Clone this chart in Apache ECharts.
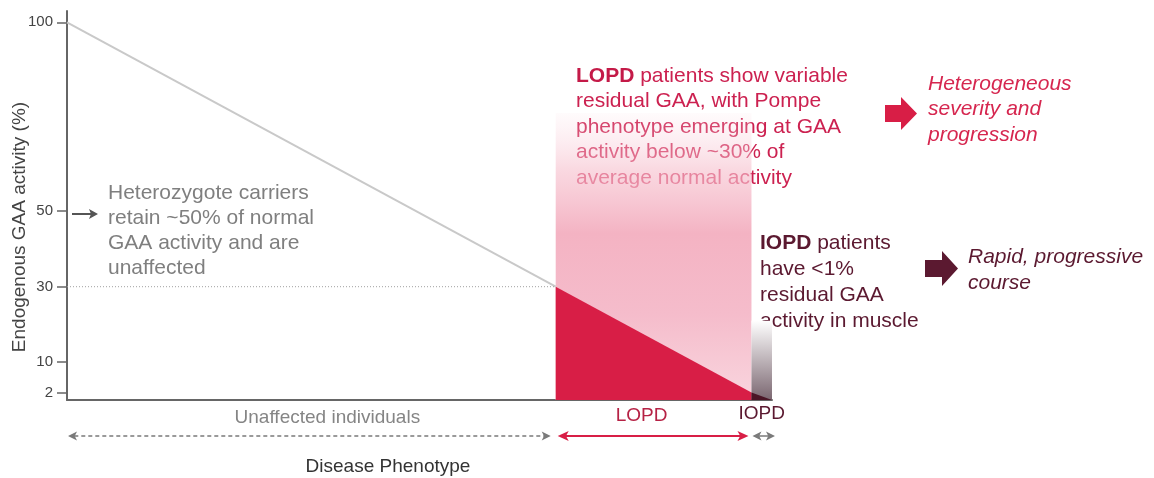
<!DOCTYPE html>
<html lang="en">
<head>
<meta charset="UTF-8">
<title>GAA activity vs disease phenotype</title>
<script src="https://cdn.jsdelivr.net/npm/echarts@6/dist/echarts.min.js"></script>
<style>
  html, body { margin: 0; padding: 0; background: #fff; }
  #main { width: 1154px; height: 478px; }
</style>
</head>
<body>
<div id="main"></div>
<script>
// ---- data ----
const activityX = [0, 100];          // disease phenotype (arbitrary units)
const activityY = [100, 2];          // endogenous GAA activity (%)
const yTickValues = [2, 10, 30, 50, 100];
const lopdThreshold = 30;
const lopdStartX = 71.4;
const iopdStartX = 100;
const axisEndX = 103;
const lopdBandTop = 76;
const iopdBandTop = 21;
const phenotypeNames = ['Unaffected individuals', 'LOPD', 'IOPD'];
const phenotypeStart = [0, lopdStartX, iopdStartX];
const phenotypeEnd = [lopdStartX, iopdStartX, axisEndX];

// ---- styles ----
const FONT = '"Liberation Sans", Arial, sans-serif';
const CRIMSON = '#d81e46';
const MAROON = '#5b1930';
const rangeArrowColor = ['#7a7a7a', CRIMSON, '#7a7a7a'];
const rangeTextColor = ['#858585', '#b62245', MAROON];
const rangeDashed = [true, false, false];
const rangeInset = [[1, -5], [2, -3], [1, 3]];
const rangeLabelDx = [16, -12, 0];
const rangeLabelDy = [18, 16, 14];

let ele = document.getElementById('main');
var myCharts = echarts.init(ele);

function arrowHead(tipX, y, dir, len, half, color) {
    return {
        type: 'polygon',
        shape: { points: [[tipX, y], [tipX - dir * len, y - half], [tipX - dir * len * 0.75, y], [tipX - dir * len, y + half]] },
        style: { fill: color }
    };
}

function renderPhenotype(params, api) {
    const i = api.value(2);
    const a = api.coord([api.value(0), 0]);
    const b = api.coord([api.value(1), 0]);
    const y = a[1] + 36;
    const x0 = a[0] + rangeInset[i][0];
    const x1 = b[0] + rangeInset[i][1];
    const color = rangeArrowColor[i];
    const len = i === 1 ? 11 : 9;
    const half = i === 1 ? 5 : 4.5;
    const children = [];
    children.push({
        type: 'line',
        shape: { x1: x0 + len * 0.7, y1: y, x2: x1 - len * 0.7, y2: y },
        style: { stroke: color, lineWidth: i === 1 ? 2 : 1.5, lineDash: rangeDashed[i] ? [4, 3] : null }
    });
    children.push(arrowHead(x0, y, -1, len, half, color));
    children.push(arrowHead(x1, y, 1, len, half, color));
    children.push({
        type: 'text',
        x: (a[0] + b[0]) / 2 + rangeLabelDx[i],
        y: a[1] + rangeLabelDy[i],
        style: {
            text: phenotypeNames[i], fill: rangeTextColor[i],
            font: '19px ' + FONT, align: 'center', verticalAlign: 'middle'
        }
    });
    return { type: 'group', children: children };
}

var option = {
    animation: false,
    backgroundColor: '#fff',
    grid: { left: 67, right: 382, top: 11, bottom: 78 },
    xAxis: {
        type: 'value', min: 0, max: axisEndX,
        axisLine: { lineStyle: { color: '#666', width: 2 } },
        axisTick: { show: false }, axisLabel: { show: false }, splitLine: { show: false }
    },
    yAxis: {
        type: 'value', min: 0, max: 103,
        axisLine: { show: true, lineStyle: { color: '#666', width: 2 } },
        axisTick: { show: true, customValues: yTickValues, length: 10, lineStyle: { color: '#666', width: 1.5 } },
        axisLabel: { customValues: yTickValues, color: '#444', fontSize: 15, fontFamily: FONT, margin: 14 },
        splitLine: { show: false }
    },
    series: [
        {
            name: 'LOPD band', type: 'line', symbol: 'none', z: 1,
            data: [[lopdStartX, lopdBandTop], [iopdStartX, lopdBandTop]],
            lineStyle: { width: 0 },
            areaStyle: {
                opacity: 1,
                color: new echarts.graphic.LinearGradient(0, 0, 0, 1, [
                    { offset: 0, color: 'rgba(250,215,224,0.1)' },
                    { offset: 0.2, color: 'rgba(246,190,204,0.6)' },
                    { offset: 0.42, color: '#f4b3c3' },
                    { offset: 0.7, color: '#f5bccb' },
                    { offset: 1, color: '#f9d5de' }
                ])
            }
        },
        {
            name: 'IOPD band', type: 'line', symbol: 'none', z: 1,
            data: [[iopdStartX, iopdBandTop], [axisEndX, iopdBandTop]],
            lineStyle: { width: 0 },
            areaStyle: {
                opacity: 1,
                color: new echarts.graphic.LinearGradient(0, 0, 0, 1, [
                    { offset: 0, color: 'rgba(255,255,255,1)' },
                    { offset: 1, color: '#7a6670' }
                ])
            }
        },
        {
            name: 'LOPD residual activity', type: 'line', symbol: 'none', z: 2,
            data: [[lopdStartX, lopdThreshold], [activityX[1], activityY[1]]],
            lineStyle: { width: 0 },
            areaStyle: { color: CRIMSON, opacity: 1 }
        },
        {
            name: 'IOPD residual activity', type: 'line', symbol: 'none', z: 2,
            data: [[activityX[1], activityY[1]], [axisEndX, 0]],
            lineStyle: { width: 0 },
            areaStyle: { color: '#4a1526', opacity: 1 }
        },
        {
            name: 'GAA activity', type: 'line', symbol: 'none', z: 3,
            data: [[activityX[0], activityY[0]], [lopdStartX, lopdThreshold]],
            lineStyle: { color: '#c9c9c9', width: 2 }
        },
        {
            name: '30% threshold', type: 'line', symbol: 'none', z: 3,
            data: [[0, lopdThreshold], [lopdStartX, lopdThreshold]],
            lineStyle: { color: '#a0a0a0', width: 1, type: [1, 2] }
        },
        {
            name: 'Phenotype', type: 'custom', clip: false, z: 4,
            renderItem: renderPhenotype,
            encode: { x: [0, 1] },
            data: phenotypeNames.map((n, i) => [phenotypeStart[i], phenotypeEnd[i], i])
        }
    ],
    graphic: [
        {
            type: 'text', x: 20, y: 227, rotation: Math.PI / 2,
            style: { text: 'Endogenous GAA activity (%)', fill: '#444', font: '19px ' + FONT, align: 'center', verticalAlign: 'middle' }
        },
        {
            type: 'text', x: 388, y: 467,
            style: { text: 'Disease Phenotype', fill: '#333', font: '19px ' + FONT, align: 'center', verticalAlign: 'middle' }
        },
        // 50% arrow
        { type: 'line', shape: { x1: 72, y1: 214, x2: 92, y2: 214 }, style: { stroke: '#555', lineWidth: 2 } },
        { type: 'polygon', shape: { points: [[98, 214], [89, 209], [91, 214], [89, 219]] }, style: { fill: '#555' } },
        {
            type: 'text', x: 108, y: 181,
            style: {
                text: 'Heterozygote carriers\nretain ~50% of normal\nGAA activity and are\nunaffected',
                fill: '#7f7f7f', font: '21px ' + FONT, lineHeight: 25, align: 'left', verticalAlign: 'top'
            }
        },
        {
            type: 'text', x: 576, y: 63,
            style: {
                text: '{b|LOPD} patients show variable\nresidual GAA, with Pompe\nphenotype emerging at GAA\nactivity below ~30% of\naverage normal activity',
                fill: '#cc2150', font: '21px ' + FONT, lineHeight: 25.5, align: 'left', verticalAlign: 'top',
                rich: { b: { fontWeight: 'bold', fontSize: 21, fontFamily: FONT, lineHeight: 25.5, fill: '#c41a48' } }
            }
        },
        {
            type: 'text', x: 760, y: 230,
            style: {
                text: '{b|IOPD} patients\nhave <1%\nresidual GAA\nactivity in muscle',
                fill: MAROON, font: '21px ' + FONT, lineHeight: 26, align: 'left', verticalAlign: 'top',
                rich: { b: { fontWeight: 'bold', fontSize: 21, fontFamily: FONT, lineHeight: 26, fill: MAROON } }
            }
        },
        {
            type: 'polygon',
            shape: { points: [[885, 105], [901, 105], [901, 97], [917, 113.5], [901, 130], [901, 122], [885, 122]] },
            style: { fill: CRIMSON }
        },
        {
            type: 'text', x: 928, y: 71,
            style: {
                text: 'Heterogeneous\nseverity and\nprogression',
                fill: '#d6264f', font: 'italic 21px ' + FONT, lineHeight: 25.5, align: 'left', verticalAlign: 'top'
            }
        },
        {
            type: 'polygon',
            shape: { points: [[925, 260], [942, 260], [942, 251], [958, 268.5], [942, 286], [942, 277], [925, 277]] },
            style: { fill: MAROON }
        },
        {
            type: 'text', x: 968, y: 244,
            style: {
                text: 'Rapid, progressive\ncourse',
                fill: MAROON, font: 'italic 21px ' + FONT, lineHeight: 26, align: 'left', verticalAlign: 'top'
            }
        }
    ]
};
myCharts.setOption(option);
</script>
</body>
</html>
